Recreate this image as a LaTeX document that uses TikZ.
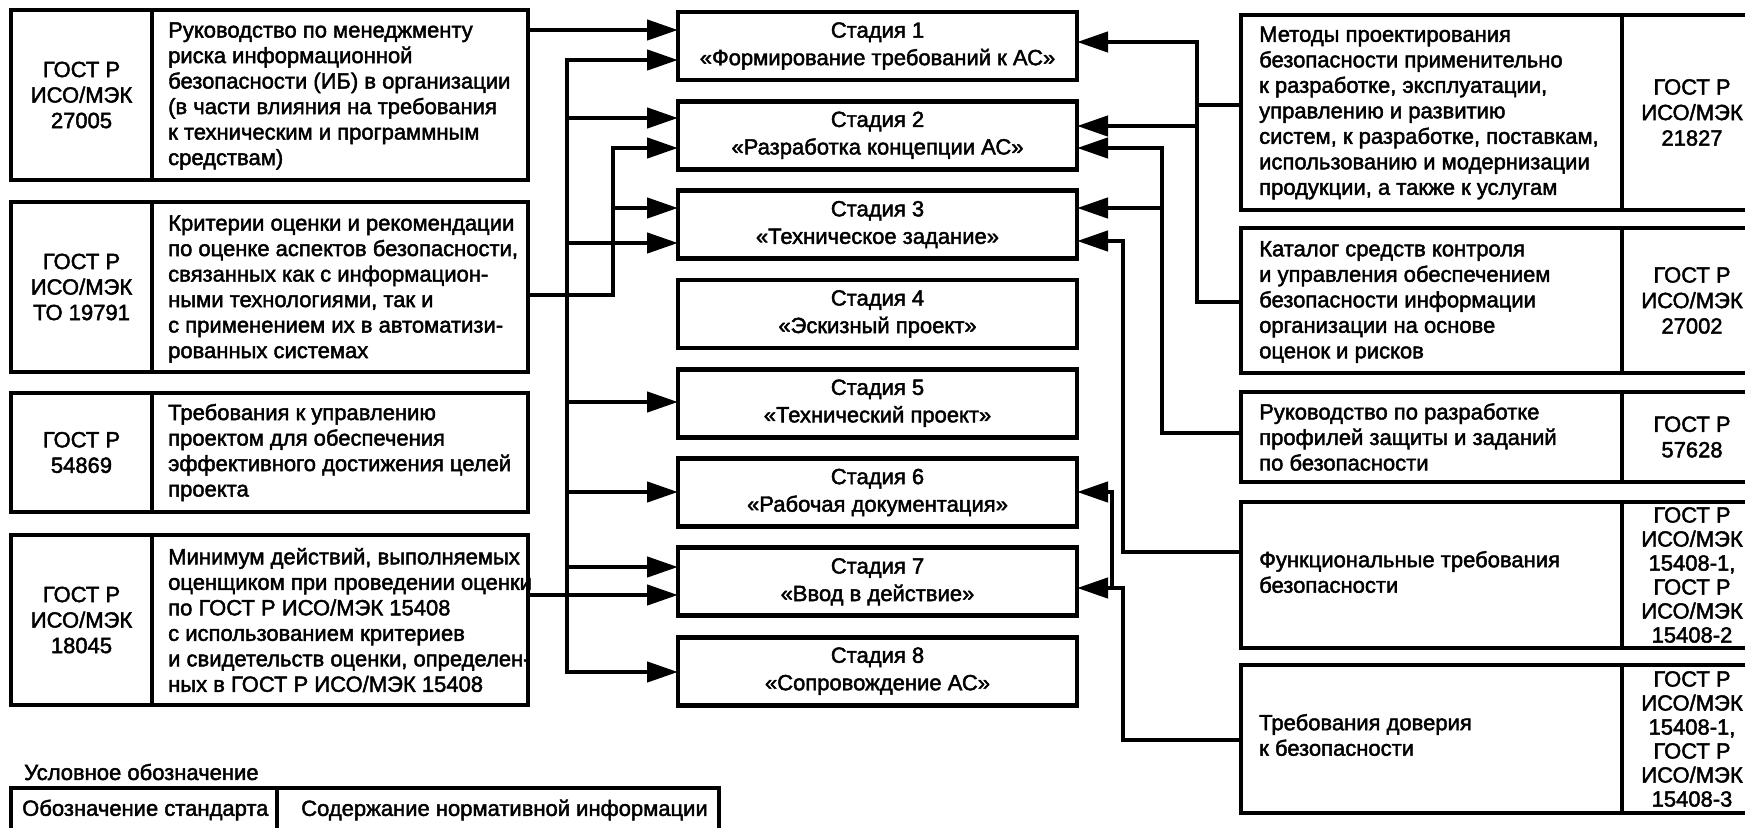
\documentclass[tikz,border=0pt]{standalone}
\usepackage{fontspec}
\setmainfont{Liberation Sans}[FakeBold=2]
\usetikzlibrary{arrows.meta}
\newcommand\myfs{\fontsize{22bp}{25.5bp}\selectfont}
\newcommand\mystagefs{\fontsize{22bp}{27.5bp}\selectfont}
\newcommand\mycodefs{\fontsize{22bp}{24bp}\selectfont}
\begin{document}
\begin{tikzpicture}[x=1bp,y=-1bp,
  cell/.style={draw, line width=4.8bp, inner sep=0pt, outer sep=0pt, align=center, font=\myfs},
  stagebox/.style={cell, minimum width=399bp, minimum height=68bp, font=\mystagefs},
  desc/.style={inner sep=0pt, align=left, anchor=west, font=\myfs},
  wire/.style={line width=4.4bp},
  arr/.style={wire, -{Triangle[length=31bp,width=20bp]}},
  arrtwo/.style={wire, {Triangle[length=31bp,width=20bp]}-{Triangle[length=31bp,width=20bp]}}]
\useasboundingbox (0,0) rectangle (1745,828);

% ---------- left boxes ----------
\node[cell, minimum width=141bp, minimum height=170bp] (L1c) at (81.5,95) {ГОСТ Р\\ИСО/МЭК\\27005};
\node[cell, minimum width=376bp, minimum height=170bp] (L1d) at (340,95) {};
\node[desc] (L1t) at (168,96) {Руководство по менеджменту\\риска информационной\\безопасности (ИБ) в организации\\(в части влияния на требования\\к техническим и программным\\средствам)};

\node[cell, minimum width=141bp, minimum height=170bp] (L2c) at (81.5,287) {ГОСТ Р\\ИСО/МЭК\\ТО 19791};
\node[cell, minimum width=376bp, minimum height=170bp] (L2d) at (340,287) {};
\node[desc] (L2t) at (168,289) {Критерии оценки и рекомендации\\по оценке аспектов безопасности,\\связанных как с информацион-\\ными технологиями, так и\\с применением их в автоматизи-\\рованных системах};

\node[cell, minimum width=141bp, minimum height=119bp] (L3c) at (81.5,452.5) {ГОСТ Р\\54869};
\node[cell, minimum width=376bp, minimum height=119bp] (L3d) at (340,452.5) {};
\node[desc] (L3t) at (168,452.5) {Требования к управлению\\проектом для обеспечения\\эффективного достижения целей\\проекта};

\node[cell, minimum width=141bp, minimum height=170bp] (L4c) at (81.5,620) {ГОСТ Р\\ИСО/МЭК\\18045};
\node[cell, minimum width=376bp, minimum height=170bp] (L4d) at (340,620) {};
\node[desc] (L4t) at (168,620) {Минимум действий, выполняемых\\оценщиком при проведении оценки\\по ГОСТ Р ИСО/МЭК 15408\\с использованием критериев\\и свидетельств оценки, определен-\\ных в ГОСТ Р ИСО/МЭК 15408};

% ---------- stages ----------
\node[stagebox] (S1) at (877.5,46)    {Стадия 1\\«Формирование требований к АС»};
\node[stagebox] (S2) at (877.5,135.3) {Стадия 2\\«Разработка концепции АС»};
\node[stagebox] (S3) at (877.5,224.6) {Стадия 3\\«Техническое задание»};
\node[stagebox] (S4) at (877.5,313.9) {Стадия 4\\«Эскизный проект»};
\node[stagebox] (S5) at (877.5,403.2) {Стадия 5\\«Технический проект»};
\node[stagebox] (S6) at (877.5,492.5) {Стадия 6\\«Рабочая документация»};
\node[stagebox] (S7) at (877.5,581.8) {Стадия 7\\«Ввод в действие»};
\node[stagebox] (S8) at (877.5,671.1) {Стадия 8\\«Сопровождение АС»};

% ---------- right boxes ----------
\node[cell, minimum width=381bp, minimum height=195bp] (R1d) at (1431.5,112.5) {};
\node[cell, minimum width=140bp, minimum height=195bp] (R1c) at (1692,112.5) {ГОСТ Р\\ИСО/МЭК\\21827};
\node[desc] (R1t) at (1259,113) {Методы проектирования\\безопасности применительно\\к разработке, эксплуатации,\\управлению и развитию\\систем, к разработке, поставкам,\\использованию и модернизации\\продукции, а также к услугам};

\node[cell, minimum width=381bp, minimum height=145bp] (R2d) at (1431.5,300.5) {};
\node[cell, minimum width=140bp, minimum height=145bp] (R2c) at (1692,300.5) {ГОСТ Р\\ИСО/МЭК\\27002};
\node[desc] (R2t) at (1259,302) {Каталог средств контроля\\и управления обеспечением\\безопасности информации\\организации на основе\\оценок и рисков};

\node[cell, minimum width=381bp, minimum height=90bp] (R3d) at (1431.5,437) {};
\node[cell, minimum width=140bp, minimum height=90bp] (R3c) at (1692,437) {ГОСТ Р\\57628};
\node[desc] (R3t) at (1259,437) {Руководство по разработке\\профилей защиты и заданий\\по безопасности};

\node[cell, minimum width=381bp, minimum height=146bp] (R4d) at (1431.5,575) {};
\node[cell, minimum width=140bp, minimum height=146bp, font=\mycodefs] (R4c) at (1692,575) {ГОСТ Р\\ИСО/МЭК\\15408-1,\\ГОСТ Р\\ИСО/МЭК\\15408-2};
\node[desc] (R4t) at (1259,572) {Функциональные требования\\безопасности};

\node[cell, minimum width=381bp, minimum height=148bp] (R5d) at (1431.5,739) {};
\node[cell, minimum width=140bp, minimum height=148bp, font=\mycodefs] (R5c) at (1692,739) {ГОСТ Р\\ИСО/МЭК\\15408-1,\\ГОСТ Р\\ИСО/МЭК\\15408-3};
\node[desc] (R5t) at (1259,735) {Требования доверия\\к безопасности};

% ---------- legend ----------
\node[desc] (LgT) at (24,772) {Условное обозначение};
\node[cell, minimum width=266bp, minimum height=50bp] (Lg1) at (144,813) {};
\node[cell, minimum width=442bp, minimum height=50bp] (Lg2) at (498,813) {};
\node[desc] (Lg1t) at (22,810) {Обозначение стандарта};
\node[desc] (Lg2t) at (301,810) {Содержание нормативной информации};

% ---------- junction coordinates ----------
\coordinate (y30) at (0,30);
\coordinate (y595) at (0,595);
\coordinate (A1) at (567,60);
\coordinate (A2) at (567,118);
\coordinate (A3) at (567,243);
\coordinate (A5) at (567,402);
\coordinate (A6) at (567,492);
\coordinate (A7) at (567,567);
\coordinate (A8) at (567,672);
\coordinate (B2) at (613,148);
\coordinate (B3) at (613,208);
\coordinate (Bb) at (613,295);
\coordinate (C1) at (1197,42);
\coordinate (C2) at (1197,126);
\coordinate (Cr) at (1197,105);
\coordinate (Cb) at (1197,302);
\coordinate (D2) at (1162,148);
\coordinate (D3) at (1162,208);
\coordinate (Db) at (1162,433);
\coordinate (E3) at (1123,241);
\coordinate (Eb) at (1123,552);
\coordinate (F7) at (1123,588);
\coordinate (Fb) at (1123,740);
\coordinate (G7) at (1112,588);
\coordinate (G6) at (1112,492);

% ---------- left connectors ----------
\draw[arr] (L1d.east |- y30) -- (S1.west |- y30);
\draw[arrtwo] (S1.west |- A1) -- (A1) -- (A8) -- (S8.west |- A8);
\draw[arr] (A2) -- (S2.west |- A2);
\draw[arr] (A3) -- (S3.west |- A3);
\draw[arr] (A5) -- (S5.west |- A5);
\draw[arr] (A6) -- (S6.west |- A6);
\draw[arr] (A7) -- (S7.west |- A7);
\draw[arr] (L2d.east |- Bb) -- (Bb) -- (B2) -- (S2.west |- B2);
\draw[arr] (B3) -- (S3.west |- B3);
\draw[arr] (L4d.east |- y595) -- (S7.west |- y595);

% ---------- right connectors ----------
\draw[arr] (R2d.west |- Cb) -- (Cb) -- (C1) -- (S1.east |- C1);
\draw[wire] (R1d.west |- Cr) -- (Cr);
\draw[arr] (C2) -- (S2.east |- C2);
\draw[arr] (R3d.west |- Db) -- (Db) -- (D2) -- (S2.east |- D2);
\draw[arr] (D3) -- (S3.east |- D3);
\draw[arr] (R4d.west |- Eb) -- (Eb) -- (E3) -- (S3.east |- E3);
\draw[arr] (R5d.west |- Fb) -- (Fb) -- (F7) -- (S7.east |- F7);
\draw[arr] (G7) -- (G6) -- (S6.east |- G6);
\end{tikzpicture}
\end{document}
